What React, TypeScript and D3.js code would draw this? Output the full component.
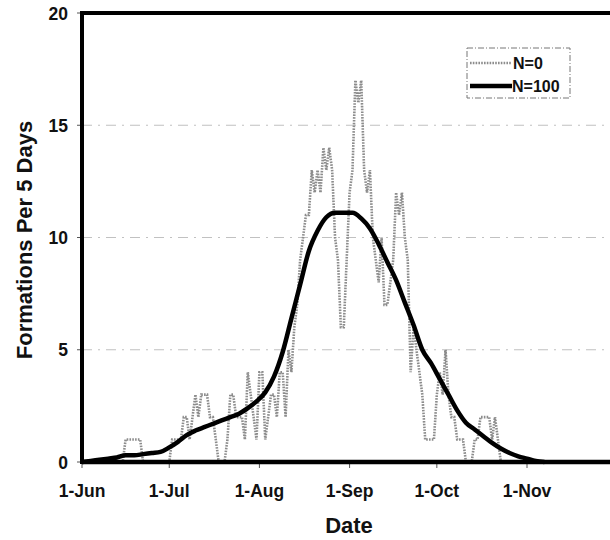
import React from 'react';
import * as d3 from 'd3';

const W = 610;
const H = 540;
const LEFT = 82;
const TOP = 13;
const BOTTOM = 462;
const NOV_X = 527;

const FONT = '"Liberation Sans", Arial, sans-serif';

// N=0 : daily values starting 1-Jun
const n0Values = [
  0, 0, 0, 0, 0, 0, 0, 0, 0, 0,
  0, 0, 0, 0, 0, 1, 1, 1, 1, 1,
  1, 0, 0, 0, 0, 0, 0, 0, 0, 0,
  0, 1, 1, 1, 1, 2, 2, 1, 2, 3,
  2, 3, 3, 3, 2, 2, 1, 0, 0, 0,
  1, 3, 3, 2, 2, 2, 1, 4, 3, 2,
  1, 4, 4, 1, 2, 3, 3, 2, 4, 4,
  2, 5, 4, 6, 7, 9, 10, 11, 11, 13,
  12, 13, 12, 14, 13, 14, 13, 10, 9, 6,
  6, 9, 12, 13, 17, 16, 17, 13, 12, 13,
  10, 9, 8, 10, 7, 7, 8, 9, 12, 11,
  12, 10, 9, 4, 6, 5, 4, 3, 1, 1,
  1, 1, 3, 4, 3, 5, 3, 2, 2, 1,
  1, 1, 0, 0, 0, 1, 1, 2, 2, 2,
  2, 1, 2, 1, 0, 0, 0, 0, 0, 0,
  0,
];

// N=100 : smooth curve, days after 1-Jun
const n100Days = [0, 3, 6, 9, 12, 15, 18, 21, 24, 27, 30, 33, 36, 39, 42, 45, 48, 51, 54, 57, 60, 63, 66, 69, 72, 75, 78, 81, 84, 87, 90, 93, 96, 99, 102, 105, 108, 111, 114, 117, 120, 123, 126, 129, 132, 135, 138, 141, 144, 147, 150, 153, 156, 159];
const n100Values = [0, 0.05, 0.1, 0.15, 0.2, 0.3, 0.3, 0.35, 0.4, 0.45, 0.65, 0.9, 1.2, 1.4, 1.55, 1.7, 1.85, 2.0, 2.15, 2.4, 2.7, 3.1, 3.8, 4.9, 6.4, 7.9, 9.4, 10.3, 10.9, 11.1, 11.1, 11.1, 10.85, 10.4, 9.7, 8.9, 8.1, 7.1, 6.1, 5.0, 4.4, 3.7, 3.0, 2.3, 1.75, 1.45, 1.15, 0.85, 0.6, 0.4, 0.25, 0.15, 0.05, 0];

const xTickLabels = ['1-Jun', '1-Jul', '1-Aug', '1-Sep', '1-Oct', '1-Nov'];
const xTickMonths = [5, 6, 7, 8, 9, 10];
const yTicks = [0, 5, 10, 15, 20];
const gridValues = [5, 10, 15];

const dayDate = (d: number) => new Date(Date.UTC(2000, 5, 1) + d * 864e5);

export default function App() {
  const x = d3.scaleUtc()
    .domain([new Date(Date.UTC(2000, 5, 1)), new Date(Date.UTC(2000, 10, 1))])
    .range([LEFT, NOV_X]);
  const y = d3.scaleLinear().domain([0, 20]).range([BOTTOM, TOP]);

  const n0Line = d3.line<number>()
    .x((_, i) => x(dayDate(i)))
    .y((v) => y(v));

  const n100Line = d3.line<number>()
    .x((_, i) => x(dayDate(n100Days[i])))
    .y((v) => y(v))
    .curve(d3.curveMonotoneX);

  return (
    <div style={{ position: 'absolute', left: 0, top: 0 }}>
      <svg width={W} height={H} viewBox={`0 0 ${W} ${H}`} xmlns="http://www.w3.org/2000/svg" style={{ display: 'block', background: '#fff' }}>
        {/* grid */}
        {gridValues.map((g) => (
          <line key={`g-${g}`} x1={LEFT} x2={W} y1={y(g)} y2={y(g)}
            stroke="#999" strokeWidth={1} strokeDasharray="10,6,2,6" opacity={0.6} />
        ))}

        {/* y ticks */}
        {yTicks.map((t) => (
          <g key={`yt-${t}`}>
            <line x1={LEFT - 5} x2={LEFT} y1={y(t)} y2={y(t)} stroke="#555" strokeWidth={1} />
            <text x={68} y={y(t) + 6.5} textAnchor="end" fontFamily={FONT} fontWeight="bold" fontSize={17.5} fill="#111">{t}</text>
          </g>
        ))}

        {/* x ticks */}
        {xTickMonths.map((m, i) => {
          const px = x(new Date(Date.UTC(2000, m, 1)));
          return (
            <g key={`xt-${m}`}>
              <line x1={px} x2={px} y1={BOTTOM} y2={BOTTOM + 6} stroke="#555" strokeWidth={1} />
              <text x={px} y={497} textAnchor="middle" fontFamily={FONT} fontWeight="bold" fontSize={17.5} fill="#111">{xTickLabels[i]}</text>
            </g>
          );
        })}

        {/* N=0 series */}
        <path d={n0Line(n0Values) || ''} fill="none" stroke="#8c8c8c" strokeWidth={2.6} strokeDasharray="1.6,1.2" />

        {/* N=100 series */}
        <path d={n100Line(n100Values) || ''} fill="none" stroke="#000" strokeWidth={4.5} strokeLinejoin="round" />

        {/* frame */}
        <line x1={LEFT} x2={W} y1={TOP} y2={TOP} stroke="#000" strokeWidth={4} />
        <line x1={LEFT} x2={W} y1={BOTTOM} y2={BOTTOM} stroke="#000" strokeWidth={4.5} />
        <line x1={LEFT} x2={LEFT} y1={TOP - 2} y2={BOTTOM + 2} stroke="#000" strokeWidth={4} />

        {/* legend */}
        <rect x={467} y={48} width={103} height={50} fill="#fff" stroke="#777" strokeWidth={1} strokeDasharray="6,2,1,2" />
        <line x1={470} x2={512} y1={63} y2={63} stroke="#8c8c8c" strokeWidth={2.6} strokeDasharray="1.6,1.2" />
        <text x={513} y={69} fontFamily={FONT} fontWeight="bold" fontSize={16} fill="#111">N=0</text>
        <line x1={470} x2={512} y1={86} y2={86} stroke="#000" strokeWidth={4.5} />
        <text x={512} y={92} fontFamily={FONT} fontWeight="bold" fontSize={16} fill="#111">N=100</text>

        {/* axis titles */}
        <text x={349} y={533} textAnchor="middle" fontFamily={FONT} fontWeight="bold" fontSize={22} fill="#111">Date</text>
        <text transform={`translate(32,240) rotate(-90)`} textAnchor="middle" fontFamily={FONT} fontWeight="bold" fontSize={22} fill="#111">Formations Per 5 Days</text>
      </svg>
    </div>
  );
}
